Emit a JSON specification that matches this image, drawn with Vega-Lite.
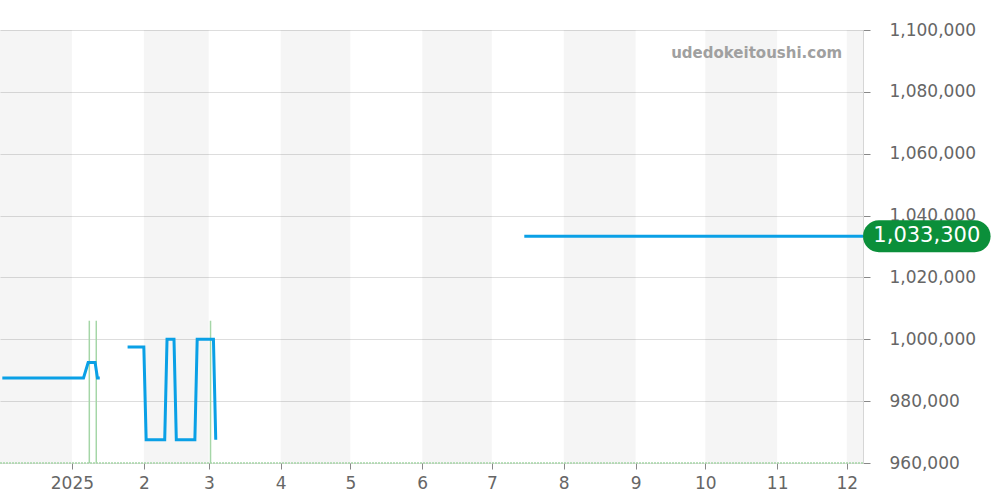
{
  "$schema": "https://vega.github.io/schema/vega-lite/v6.json",
  "width": 863,
  "height": 433,
  "autosize": {"type": "none"},
  "padding": {"top": 30, "left": 0, "right": 137, "bottom": 37},
  "background": "white",
  "config": {"view": {"stroke": null}, "font": "DejaVu Sans"},
  "datasets": {
    "bands": [
      {"start": "2024-12-01T00:00:00", "end": "2025-01-01T00:00:00"},
      {"start": "2025-02-01T00:00:00", "end": "2025-03-01T00:00:00"},
      {"start": "2025-04-01T00:00:00", "end": "2025-05-01T00:00:00"},
      {"start": "2025-06-01T00:00:00", "end": "2025-07-01T00:00:00"},
      {"start": "2025-08-01T00:00:00", "end": "2025-09-01T00:00:00"},
      {"start": "2025-10-01T00:00:00", "end": "2025-11-01T00:00:00"},
      {"start": "2025-12-01T00:00:00", "end": "2025-12-08T00:00:00"}
    ],
    "prices": [
      {"date": "2024-12-02T00:00:00", "price": 987500, "seg": "a"},
      {"date": "2025-01-06T00:00:00", "price": 987500, "seg": "a"},
      {"date": "2025-01-08T00:00:00", "price": 992500, "seg": "a"},
      {"date": "2025-01-11T00:00:00", "price": 992500, "seg": "a"},
      {"date": "2025-01-12T00:00:00", "price": 987500, "seg": "a"},
      {"date": "2025-01-13T00:00:00", "price": 987500, "seg": "a"},
      {"date": "2025-01-25T00:00:00", "price": 997500, "seg": "b"},
      {"date": "2025-02-01T00:00:00", "price": 997500, "seg": "b"},
      {"date": "2025-02-02T00:00:00", "price": 967500, "seg": "b"},
      {"date": "2025-02-10T00:00:00", "price": 967500, "seg": "b"},
      {"date": "2025-02-11T00:00:00", "price": 1000000, "seg": "b"},
      {"date": "2025-02-14T00:00:00", "price": 1000000, "seg": "b"},
      {"date": "2025-02-15T00:00:00", "price": 967500, "seg": "b"},
      {"date": "2025-02-23T00:00:00", "price": 967500, "seg": "b"},
      {"date": "2025-02-24T00:00:00", "price": 1000000, "seg": "b"},
      {"date": "2025-03-03T00:00:00", "price": 1000000, "seg": "b"},
      {"date": "2025-03-04T00:00:00", "price": 967500, "seg": "b"},
      {"date": "2025-07-15T00:00:00", "price": 1033300, "seg": "c"},
      {"date": "2025-12-08T00:00:00", "price": 1033300, "seg": "c"}
    ],
    "events": [
      {"date": "2025-01-08T12:00:00", "lo": 960000, "hi": 1006000},
      {"date": "2025-01-11T12:00:00", "lo": 960000, "hi": 1006000},
      {"date": "2025-03-01T18:00:00", "lo": 960000, "hi": 1006000}
    ],
    "badge": [
      {"x1": "2025-12-08T00:00:00", "x2": "2026-02-01T00:00:00", "xm": "2026-01-04T12:00:00", "lo": 1028150, "hi": 1038450, "price": 1033300, "label": "1,033,300"}
    ],
    "mark": [
      {"date": "2025-11-29T00:00:00", "price": 1092600, "label": "udedokeitoushi.com"}
    ],
    "base": [
      {"price": 960000}
    ]
  },
  "layer": [
    {
      "data": {"name": "bands"},
      "mark": {"type": "rect", "color": "#000000", "opacity": 0.04, "clip": true},
      "encoding": {
        "x": {
          "field": "start", "type": "temporal",
          "scale": {"domain": [{"year": 2024, "month": 12, "date": 1}, {"year": 2025, "month": 12, "date": 8}]},
          "axis": {
            "values": [
              {"year": 2025, "month": 1, "date": 1}, {"year": 2025, "month": 2, "date": 1},
              {"year": 2025, "month": 3, "date": 1}, {"year": 2025, "month": 4, "date": 1},
              {"year": 2025, "month": 5, "date": 1}, {"year": 2025, "month": 6, "date": 1},
              {"year": 2025, "month": 7, "date": 1}, {"year": 2025, "month": 8, "date": 1},
              {"year": 2025, "month": 9, "date": 1}, {"year": 2025, "month": 10, "date": 1},
              {"year": 2025, "month": 11, "date": 1}, {"year": 2025, "month": 12, "date": 1}
            ],
            "labelExpr": "month(datum.value) == 0 ? timeFormat(datum.value, '%Y') : '' + (month(datum.value) + 1)",
            "title": null,
            "grid": false,
            "domain": false,
            "tickColor": "#888888",
            "tickSize": 6,
            "labelFontSize": 17,
            "labelColor": "#666666",
            "labelPadding": 6,
            "labelFlush": false
          }
        },
        "x2": {"field": "end"}
      }
    },
    {
      "data": {"name": "base"},
      "mark": {"type": "rule", "color": "#a5d6a7", "strokeWidth": 1.5, "strokeDash": [2, 1]},
      "encoding": {
        "y": {
          "field": "price", "type": "quantitative",
          "scale": {"domain": [960000, 1100000], "nice": false, "zero": false},
          "axis": {
            "orient": "right",
            "values": [960000, 980000, 1000000, 1020000, 1040000, 1060000, 1080000, 1100000],
            "format": ",d",
            "title": null,
            "domain": true,
            "domainColor": "#d6d6d6",
            "gridColor": "#dddddd",
            "tickColor": "#888888",
            "tickSize": 7,
            "labelFontSize": 17,
            "labelColor": "#666666",
            "labelPadding": 19,
            "labelFlush": false
          }
        }
      }
    },
    {
      "data": {"name": "events"},
      "mark": {"type": "rule", "color": "#a5d6a7", "strokeWidth": 1.5},
      "encoding": {
        "x": {"field": "date", "type": "temporal"},
        "y": {"field": "lo", "type": "quantitative"},
        "y2": {"field": "hi"}
      }
    },
    {
      "data": {"name": "prices"},
      "mark": {"type": "line", "color": "#0aa0e6", "strokeWidth": 3, "strokeJoin": "miter"},
      "encoding": {
        "x": {"field": "date", "type": "temporal"},
        "y": {"field": "price", "type": "quantitative"},
        "detail": {"field": "seg"}
      }
    },
    {
      "data": {"name": "mark"},
      "mark": {"type": "text", "align": "right", "baseline": "middle", "fontSize": 15, "fontWeight": "bold", "color": "#a0a0a0"},
      "encoding": {
        "x": {"field": "date", "type": "temporal"},
        "y": {"field": "price", "type": "quantitative"},
        "text": {"field": "label"}
      }
    },
    {
      "data": {"name": "badge"},
      "mark": {"type": "rect", "color": "#0b8f3a", "cornerRadius": 16},
      "encoding": {
        "x": {"field": "x1", "type": "temporal"},
        "x2": {"field": "x2"},
        "y": {"field": "lo", "type": "quantitative"},
        "y2": {"field": "hi"}
      }
    },
    {
      "data": {"name": "badge"},
      "mark": {"type": "text", "align": "center", "baseline": "middle", "fontSize": 21, "color": "white"},
      "encoding": {
        "x": {"field": "xm", "type": "temporal"},
        "y": {"field": "price", "type": "quantitative"},
        "text": {"field": "label"}
      }
    }
  ]
}
